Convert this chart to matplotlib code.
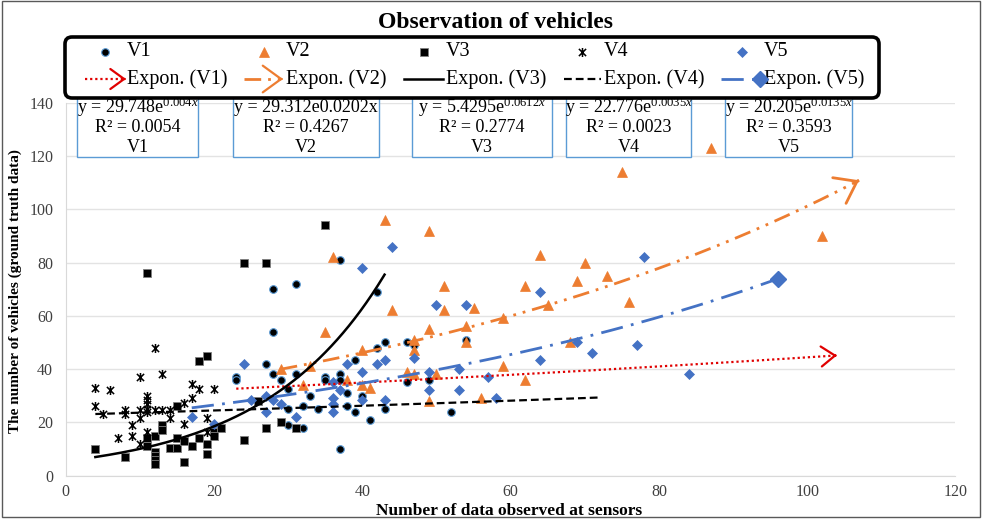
import numpy as np
import matplotlib
matplotlib.use('Agg')
import matplotlib.pyplot as plt
from matplotlib.patches import FancyBboxPatch, Rectangle, FancyArrowPatch
from matplotlib.lines import Line2D
from matplotlib.path import Path

plt.rcParams['font.family'] = ['Liberation Serif', 'DejaVu Serif']
plt.rcParams['mathtext.fontset'] = 'custom'
plt.rcParams['mathtext.rm'] = 'Liberation Serif'
plt.rcParams['mathtext.it'] = 'Liberation Serif:italic'

# ---------------- data ----------------
v1_x = [23, 23, 27, 28, 28, 28, 29, 30, 30, 30, 31, 31, 32, 32, 33, 34, 35, 35, 37, 37,
        37, 37, 38, 38, 39, 39, 40, 41, 42, 42, 43, 43, 46, 46, 47, 49, 52, 54]
v1_y = [37, 36, 42, 70, 54, 38, 36, 32.5, 25, 19, 72, 38, 26, 18, 30, 25, 37, 36, 81, 38,
        36, 10, 31, 26, 43.5, 24, 30, 21, 69, 48, 50, 25, 50, 35, 49, 36, 24, 51]

v2_x = [29, 32, 33, 35, 36, 38, 40, 40, 41, 43, 44, 46, 47, 47, 47, 49, 49, 49, 50, 51,
        51, 54, 54, 55, 56, 59, 59, 62, 62, 64, 65, 68, 69, 70, 73, 75, 76, 87, 102]
v2_y = [40, 34, 41, 54, 82, 36, 47, 34, 33, 96, 62, 39, 51, 47, 38, 92, 55, 28, 38, 71,
        62, 56, 50, 63, 29, 59, 41, 71, 36, 83, 64, 50, 73, 80, 75, 114, 65, 123, 90]

v3_x = [4, 8, 11, 11, 11, 12, 12, 12, 12, 12, 13, 13, 14, 15, 15, 15, 16, 16, 17, 18,
        18, 19, 19, 19, 20, 20, 21, 24, 24, 26, 27, 27, 29, 31, 35]
v3_y = [10, 7, 76, 14, 11, 15, 9, 7.5, 6, 4.5, 19, 17, 10.5, 26, 14, 10.5, 13, 5, 11, 43,
        14, 45, 12, 8, 16.5, 15, 18, 80, 13.5, 28, 80, 18, 20, 18, 94]

v4_x = [4, 4, 5, 6, 7, 8, 8, 9, 9, 10, 10, 10, 10, 11, 11, 11, 11, 11, 11, 12,
        12, 13, 13, 14, 14, 16, 16, 17, 17, 18, 19, 19, 20]
v4_y = [33, 26, 23, 32, 14, 24.6, 23, 19, 15, 37, 24.6, 21.5, 12, 30, 28.5, 27, 25, 24, 16.5, 48,
        24.6, 38, 24.6, 24.6, 21.5, 27.4, 19.2, 34.4, 29, 32.4, 21.5, 16.5, 32.4]

v5_x = [17, 20, 24, 25, 27, 27, 28, 29, 31, 36, 36, 36, 36, 37, 38, 40, 40, 40, 42, 43,
        43, 44, 47, 49, 49, 50, 53, 53, 54, 57, 58, 64, 64, 69, 71, 77, 78, 84]
v5_y = [22, 19.5, 42, 28.5, 30, 24, 28.5, 27, 22, 35, 29, 27, 24, 32, 42, 78, 39, 28.5, 42, 43.5,
        28.5, 86, 44, 39, 32, 64, 40, 32, 64, 37, 29, 69, 43.5, 50, 46, 49, 82, 38]

series_names = ['V1', 'V2', 'V3', 'V4', 'V5']

# exponential trendlines as drawn: y = a * exp(b x), over [x0, x1]
trend_a = [29.748, 27.3, 5.4295, 22.776, 20.205]
trend_b = [0.004, 0.0131, 0.0612, 0.0035, 0.0135]
trend_x0 = [23, 29, 4, 4, 17]
trend_x1 = [104, 107, 43, 72, 96]

# trendline labels
eq_labels = ['y = 29.748e$^{0.004x}$', 'y = 29.312e0.0202x', 'y = 5.4295e$^{0.0612x}$',
             'y = 22.776e$^{0.0035x}$', 'y = 20.205e$^{0.0135x}$']
r2_labels = ['R² = 0.0054', 'R² = 0.4267', 'R² = 0.2774', 'R² = 0.0023', 'R² = 0.3593']

x_ticks = [0, 20, 40, 60, 80, 100, 120]
y_ticks = [0, 20, 40, 60, 80, 100, 120, 140]

title = 'Observation of vehicles'
xlabel = 'Number of data observed at sensors'
ylabel = 'The number of vehicles (ground truth data)'

# ---------------- styles ----------------
W, H = 986, 519
fig = plt.figure(figsize=(W / 100, H / 100), dpi=100)
fig.patch.set_facecolor('white')
T = fig.dpi_scale_trans


def P(x, y):
    """pixel (from top-left) -> inches for dpi_scale_trans"""
    return x / 100.0, (H - y) / 100.0


ax = fig.add_axes([65.7 / W, 1 - 475.5 / H, (955.5 - 65.7) / W, (475.5 - 102.8) / H])
ax.set_xlim(0, 120)
ax.set_ylim(0, 140)
ax.set_xticks(x_ticks)
ax.set_yticks(y_ticks)
ax.tick_params(axis='y', length=0, labelsize=11.5, labelcolor='#404040', pad=9)
ax.tick_params(axis='x', length=0, labelsize=11.5, labelcolor='#404040', pad=6)
for s in ['top', 'right']:
    ax.spines[s].set_visible(False)
ax.spines['left'].set_color('#d9d9d9')
ax.spines['bottom'].set_color('#d9d9d9')
ax.grid(axis='y', color='#e3e3e3', lw=1)
ax.set_axisbelow(True)

ORANGE = '#ed7d31'
BLUE = '#4472c4'
RED = '#e00000'

star = Path([(0, -1), (0, 1), (-0.8, -0.8), (0.8, 0.8), (-0.8, 0.8), (0.8, -0.8)],
            [Path.MOVETO, Path.LINETO, Path.MOVETO, Path.LINETO, Path.MOVETO, Path.LINETO])

mk = [
    dict(marker='o', ms=5.5, mfc='black', mec='#5b9bd5', mew=0.8),
    dict(marker='^', ms=6.5, mfc=ORANGE, mec=ORANGE, mew=0.5),
    dict(marker='s', ms=5.5, mfc='black', mec='#7f7f7f', mew=0.6),
    dict(marker=star, ms=6.5, mfc='none', mec='black', mew=1.1),
    dict(marker='D', ms=4.8, mfc=BLUE, mec=BLUE, mew=0.5),
]
xs = [v1_x, v2_x, v3_x, v4_x, v5_x]
ys = [v1_y, v2_y, v3_y, v4_y, v5_y]
for i in range(5):
    ax.plot(xs[i], ys[i], ls='none', zorder=3, **mk[i])

tl = [
    dict(color=RED, lw=1.6, ls=(0, (1, 1.3))),
    dict(color=ORANGE, lw=2.0, ls=(0, (6, 2.5, 1, 2.5, 1, 2.5))),
    dict(color='black', lw=1.8, ls='-'),
    dict(color='black', lw=1.6, ls=(0, (3.5, 1.8))),
    dict(color=BLUE, lw=2.0, ls=(0, (8, 3, 1, 3))),
]
for i in range(5):
    xx = np.linspace(trend_x0[i], trend_x1[i], 300)
    yy = trend_a[i] * np.exp(trend_b[i] * xx)
    ax.plot(xx, yy, zorder=4, **tl[i])
    if i in (0, 1):
        hs = dict(arrowstyle='->,head_length=0.55,head_width=0.4', color=tl[i]['color'],
                  lw=1.6 if i == 0 else 2.0, mutation_scale=18 if i == 0 else 26)
        ax.annotate('', xy=(xx[-1], yy[-1]), xytext=(xx[-3], yy[-3]),
                    arrowprops=hs, zorder=5)
    if i == 4:
        ax.plot([xx[-1]], [yy[-1]], marker='D', ms=8.5, color=BLUE, zorder=5)

# ---------------- equation boxes ----------------
boxes = [(77, 198), (233, 379), (412, 552), (566, 691), (725, 852)]
for i, (l, r) in enumerate(boxes):
    x0, y0 = P(l, 157)
    x1, y1 = P(r, 92)
    fig.patches.append(Rectangle((x0, y0), x1 - x0, y1 - y0, transform=T, fc='white',
                                 ec='#5b9bd5', lw=1.0, zorder=5))
    cx = (l + r) / 2
    fig.text(*P(cx, 107), eq_labels[i], transform=T, ha='center', va='center', fontsize=13, zorder=6)
    fig.text(*P(cx, 128), r2_labels[i], transform=T, ha='center', va='center', fontsize=13, zorder=6)
    fig.text(*P(cx, 147), series_names[i], transform=T, ha='center', va='center', fontsize=13, zorder=6)

# ---------------- legend ----------------
lx0, ly0 = P(65, 98)
lx1, ly1 = P(879, 37)
fig.patches.append(FancyBboxPatch((lx0, ly0), lx1 - lx0, ly1 - ly0, transform=T,
                                  boxstyle='round,pad=0,rounding_size=0.07',
                                  fc='white', ec='black', lw=2.6, zorder=10))
row1, row2 = 52, 79
mpos = [105, 264, 424, 582, 742]
tpos = [127, 286, 446, 604, 764]
hrng = [(85, 126), (244, 283), (404, 443), (564, 601), (721, 764)]
for i in range(5):
    fig.lines.append(Line2D([P(mpos[i], row1)[0]], [P(mpos[i], row1)[1]], transform=T,
                            ls='none', zorder=11, **mk[i]))
    fig.text(*P(tpos[i], row1), series_names[i], transform=T, ha='left', va='center',
             fontsize=14.5, zorder=11)
    a, b = hrng[i]
    (hx0, hy), (hx1, _) = P(a, row2), P(b, row2)
    fig.lines.append(Line2D([hx0, hx1], [hy, hy], transform=T, zorder=11, **tl[i]))
    if i in (0, 1):
        fig.patches.append(FancyArrowPatch((hx1 - 0.05, hy), (hx1, hy), transform=T,
                                           arrowstyle='->,head_length=0.55,head_width=0.4',
                                           mutation_scale=18 if i == 0 else 24,
                                           color=tl[i]['color'], lw=1.6, zorder=12))
    if i == 4:
        fig.lines.append(Line2D([hx1 - 0.04], [hy], transform=T, marker='D', ms=8,
                                color=BLUE, zorder=12))
    fig.text(*P(tpos[i], row2), 'Expon. (%s)' % series_names[i], transform=T, ha='left',
             va='center', fontsize=14.5, zorder=11)

# ---------------- titles ----------------
fig.text(*P(495, 22), title, transform=T, ha='center', va='center', fontsize=17,
         fontweight='bold')
fig.text(*P(509, 511), xlabel, transform=T, ha='center', va='center', fontsize=12.5,
         fontweight='bold')
fig.text(*P(15, 291), ylabel, transform=T, ha='center', va='center', fontsize=11,
         fontweight='bold', rotation=90)

# outer frame
fx0, fy0 = P(2, 517)
fx1, fy1 = P(980, 1)
fig.patches.append(Rectangle((fx0, fy0), fx1 - fx0, fy1 - fy0, transform=T, fc='none',
                             ec='#595959', lw=1.0, zorder=20))

fig.savefig('out.png', dpi=100)
